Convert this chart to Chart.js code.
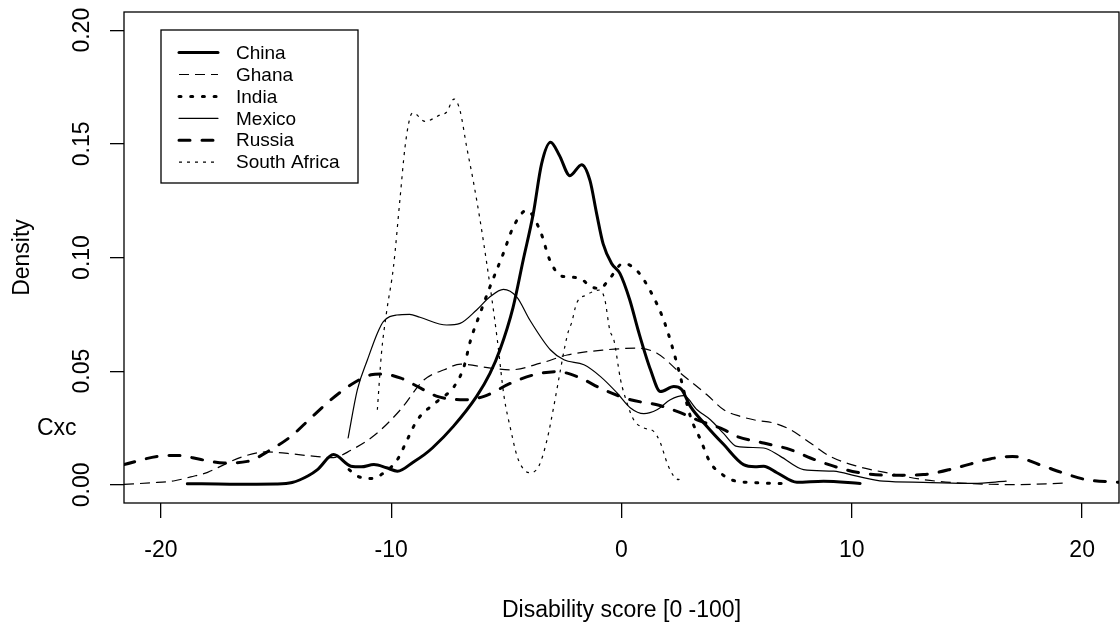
<!DOCTYPE html>
<html>
<head>
<meta charset="utf-8">
<title>Disability score density by country</title>
<script src="https://cdn.jsdelivr.net/npm/chart.js@4.4.1/dist/chart.umd.min.js"></script>
<style>
  html, body { margin: 0; padding: 0; background: #ffffff; }
</style>
</head>
<body>
<canvas id="density-chart" width="1120" height="624"></canvas>
<script>

// KERNEL DENSITY ESTIMATES - DISABILITY SCORE BY COUNTRY //
const chinaScore = [-18.85, -17, -15, -14.3, -13.6, -13.2, -12.5, -11.75, -11.3, -10.75, -10.2, -9.73, -9.0, -8.56, -8.2, -7.3, -6.29, -5.71, -5.28, -4.71, -4.27, -3.83, -3.47, -3.08, -2.7, -2.24, -1.73, -1.37, -1.08, -0.8, -0.43, -0.07, 0.36, 0.72, 1.26, 1.69, 2.27, 2.6, 2.99, 3.71, 4.44, 5.3, 5.8, 6.17, 6.75, 7.62, 8.77, 10.36];
const chinaDensity = [0.0005, 0.0003, 0.0004, 0.001, 0.004, 0.0067, 0.0133, 0.0082, 0.0079, 0.0089, 0.0075, 0.006, 0.0103, 0.0133, 0.0163, 0.0257, 0.0389, 0.049, 0.0593, 0.078, 0.0988, 0.1193, 0.1412, 0.1507, 0.145, 0.136, 0.1408, 0.1339, 0.1193, 0.1061, 0.0974, 0.093, 0.0813, 0.0681, 0.0506, 0.041, 0.0432, 0.042, 0.0345, 0.0257, 0.0177, 0.0089, 0.008, 0.0082, 0.0053, 0.0011, 0.0016, 0.0006];

const ghanaScore = [-21.6, -20.4, -19.4, -18.7, -17.97, -17.25, -16.5, -15.4, -14.5, -13.5, -12.5, -11.75, -10.7, -9.6, -8.57, -7.7, -6.98, -5.68, -4.81, -3.51, -2.36, -0.77, 0.68, 1.54, 2.56, 3.71, 4.44, 5.16, 5.88, 6.6, 7.33, 8.2, 9.06, 10.22, 11.66, 13.1, 14.55, 17, 19.4];
const ghanaDensity = [0.0002, 0.0009, 0.0018, 0.0035, 0.0055, 0.0089, 0.0122, 0.0145, 0.0138, 0.0127, 0.012, 0.0152, 0.022, 0.033, 0.0462, 0.0506, 0.0531, 0.0513, 0.0506, 0.0535, 0.0571, 0.0593, 0.0601, 0.0579, 0.0491, 0.0396, 0.033, 0.0301, 0.0283, 0.0272, 0.0243, 0.0184, 0.0125, 0.0082, 0.005, 0.0023, 0.0009, 0.0001, 0.0008];

const indiaScore = [-11.83, -11.46, -10.88, -10.31, -9.73, -9.3, -8.86, -8.0, -7.27, -6.84, -6.55, -6.14, -5.71, -5.13, -4.7, -4.12, -3.54, -3.11, -2.68, -2.39, -1.81, -1.3, -0.94, -0.51, 0.07, 0.65, 1.23, 1.88, 2.48, 2.99, 3.43, 3.86, 4.29, 4.73, 5.88, 7.2];
const indiaDensity = [0.0067, 0.0038, 0.0028, 0.0053, 0.0111, 0.0199, 0.0286, 0.0367, 0.0432, 0.052, 0.0637, 0.0754, 0.0871, 0.1018, 0.1134, 0.1207, 0.112, 0.0988, 0.0922, 0.0915, 0.0908, 0.0871, 0.0864, 0.0908, 0.0974, 0.0944, 0.0857, 0.0711, 0.0506, 0.0301, 0.0199, 0.0096, 0.0053, 0.0023, 0.0009, 0.0005];

const mexicoScore = [-11.87, -11.47, -11.03, -10.6, -10.34, -9.76, -9.2, -8.75, -7.59, -7.01, -6.29, -5.71, -5.13, -4.55, -3.98, -3.08, -2.5, -1.63, -0.91, -0.19, 0.39, 0.97, 1.54, 2.12, 2.7, 3.28, 3.86, 4.44, 5.01, 6.17, 6.9, 7.9, 9.21, 10.22, 11.37, 13.1, 15.28, 16.7];
const mexicoDensity = [0.0206, 0.0418, 0.055, 0.0667, 0.0718, 0.0747, 0.075, 0.0737, 0.0703, 0.071, 0.0769, 0.0827, 0.086, 0.0827, 0.0725, 0.0593, 0.055, 0.0528, 0.0476, 0.0404, 0.0338, 0.0313, 0.033, 0.0374, 0.0392, 0.033, 0.0286, 0.0225, 0.0169, 0.0162, 0.0125, 0.0067, 0.006, 0.0038, 0.0016, 0.0011, 0.0006, 0.0016];

const russiaScore = [-21.6, -20.14, -19.27, -18.26, -17.25, -16.24, -15.22, -14.35, -13.49, -12.62, -11.75, -10.88, -10.45, -9.58, -8.72, -8.0, -6.84, -5.97, -4.81, -3.8, -2.79, -1.93, -0.77, 0.39, 1.54, 2.41, 3.28, 4.44, 5.01, 6.17, 7.33, 8.2, 9.21, 10.22, 11.66, 13.1, 14.55, 16.0, 16.98, 18.14, 19.15, 20.17, 21.6];
const russiaDensity = [0.0089, 0.0125, 0.0129, 0.0111, 0.0096, 0.0103, 0.0155, 0.0213, 0.0294, 0.0374, 0.044, 0.0484, 0.0488, 0.0469, 0.0425, 0.0389, 0.0374, 0.0389, 0.0447, 0.0484, 0.0498, 0.0476, 0.0418, 0.0374, 0.0352, 0.0323, 0.0286, 0.0243, 0.0213, 0.0184, 0.0155, 0.0118, 0.0082, 0.0055, 0.0042, 0.0045, 0.0075, 0.0114, 0.0125, 0.0089, 0.0053, 0.0023, 0.0011];

const southAfricaScore = [-10.6, -10.42, -10.2, -9.9, -9.61, -9.4, -9.18, -9.04, -8.53, -7.88, -7.6, -7.27, -7.01, -6.72, -6.44, -6.14, -5.85, -5.64, -5.39, -5.1, -4.81, -4.53, -4.24, -3.98, -3.59, -3.23, -2.94, -2.65, -2.43, -2.29, -2.17, -1.95, -1.52, -0.94, -0.72, -0.51, -0.33, -0.04, 0.24, 0.53, 0.97, 1.4, 1.69, 1.98, 2.27, 2.48, 2.56];
const southAfricaDensity = [0.033, 0.058, 0.076, 0.0959, 0.1266, 0.1485, 0.1617, 0.1636, 0.1599, 0.1627, 0.1639, 0.1697, 0.1646, 0.1485, 0.1339, 0.1164, 0.0974, 0.0827, 0.0637, 0.0389, 0.0243, 0.0125, 0.0067, 0.0053, 0.0082, 0.0199, 0.0345, 0.0506, 0.0623, 0.0681, 0.0711, 0.0798, 0.0835, 0.0857, 0.0813, 0.0681, 0.0637, 0.0462, 0.036, 0.0286, 0.025, 0.0235, 0.0184, 0.0096, 0.0038, 0.0023, 0.0038];

const countries = ['China', 'Ghana', 'India', 'Mexico', 'Russia', 'South Africa'];

// AXES //
const xTicks = [-20, -10, 0, 10, 20];
const yTicks = [0, 0.05, 0.10, 0.15, 0.20];

const FONT = '"Liberation Sans", Arial, Helvetica, sans-serif';

/**
 * line type per country, base-graphics style
 */
const LINE_STYLES = {
  'China': {borderWidth: 3, borderDash: [], borderCapStyle: 'round'},
  'Ghana': {borderWidth: 1.2, borderDash: [10, 6], borderCapStyle: 'butt'},
  'India': {borderWidth: 3, borderDash: [2, 9.7], borderCapStyle: 'round'},
  'Mexico': {borderWidth: 1.2, borderDash: [], borderCapStyle: 'round'},
  'Russia': {borderWidth: 3, borderDash: [11, 12], borderCapStyle: 'round'},
  'South Africa': {borderWidth: 1.2, borderDash: [3, 5], borderCapStyle: 'butt'}
};

const toPoints = (scores, densities) => scores.map((x, i) => ({x: x, y: densities[i]}));

const seriesPoints = [
  toPoints(chinaScore, chinaDensity),
  toPoints(ghanaScore, ghanaDensity),
  toPoints(indiaScore, indiaDensity),
  toPoints(mexicoScore, mexicoDensity),
  toPoints(russiaScore, russiaDensity),
  toPoints(southAfricaScore, southAfricaDensity)
];

const datasets = countries.map((country, i) => Object.assign({
  label: country,
  data: seriesPoints[i],
  showLine: true,
  pointRadius: 0,
  borderColor: '#000000',
  backgroundColor: '#000000',
  borderJoinStyle: 'round',
  cubicInterpolationMode: 'monotone',
  fill: false
}, LINE_STYLES[country]));

// PLOT FRAME, INSET LEGEND AND SIDE NOTE //
const framePlugin = {
  id: 'frame',
  afterDatasetsDraw(chart) {
    const {ctx, chartArea: area} = chart;
    ctx.save();

    // box //
    ctx.strokeStyle = '#000000';
    ctx.lineWidth = 1.3;
    ctx.setLineDash([]);
    ctx.strokeRect(area.left, area.top, area.right - area.left, area.bottom - area.top);

    // legend //
    const boxX = area.left + 37;
    const boxY = area.top + 18;
    ctx.strokeRect(boxX, boxY, 197, 153);

    ctx.font = '19px ' + FONT;
    ctx.textBaseline = 'middle';
    ctx.textAlign = 'left';
    ctx.fillStyle = '#000000';
    chart.data.datasets.forEach((ds, i) => {
      const rowY = boxY + 22.6 + i * 21.9;
      ctx.beginPath();
      ctx.lineWidth = ds.borderWidth;
      ctx.lineCap = ds.borderCapStyle;
      ctx.setLineDash(ds.borderDash);
      ctx.moveTo(boxX + 18, rowY);
      ctx.lineTo(boxX + 57, rowY);
      ctx.stroke();
      ctx.fillText(ds.label, boxX + 75, rowY + 1);
    });
    ctx.setLineDash([]);

    // side note //
    ctx.font = '23px ' + FONT;
    ctx.textBaseline = 'alphabetic';
    ctx.fillText('Cxc', 37, 435);

    ctx.restore();
  }
};

const axisFont = {family: FONT, size: 23};

const densityChart = new Chart(document.getElementById('density-chart'), {
  type: 'scatter',
  data: {datasets: datasets},
  options: {
    responsive: false,
    animation: false,
    devicePixelRatio: 1,
    layout: {autoPadding: false, padding: {top: 12, right: 1, bottom: 0, left: 0}},
    plugins: {
      legend: {display: false},
      tooltip: {enabled: false}
    },
    scales: {
      x: {
        type: 'linear',
        min: -21.6,
        max: 21.6,
        bounds: 'data',
        afterBuildTicks: (scale) => { scale.ticks = xTicks.map(v => ({value: v})); },
        afterFit: (scale) => {
          scale.height = 121;
          scale.paddingLeft = 0;
          scale.paddingRight = 0;
        },
        border: {display: false},
        grid: {
          drawOnChartArea: false,
          drawTicks: true,
          tickLength: 15,
          color: '#000000',
          lineWidth: 1.3
        },
        ticks: {
          color: '#000000',
          font: axisFont,
          padding: 19,
          maxRotation: 0,
          autoSkip: false,
          callback: (value) => String(value)
        },
        title: {
          display: true,
          text: 'Disability score [0 -100]',
          color: '#000000',
          font: axisFont,
          padding: {top: 0, bottom: 0}
        }
      },
      y: {
        type: 'linear',
        min: -0.008,
        max: 0.208,
        bounds: 'data',
        afterBuildTicks: (scale) => { scale.ticks = yTicks.map(v => ({value: v})); },
        afterFit: (scale) => {
          scale.width = 124;
          scale.paddingTop = 0;
          scale.paddingBottom = 0;
        },
        border: {display: false},
        grid: {
          drawOnChartArea: false,
          drawTicks: true,
          tickLength: 14,
          color: '#000000',
          lineWidth: 1.3
        },
        ticks: {
          color: '#000000',
          font: axisFont,
          padding: 5,
          minRotation: 90,
          maxRotation: 90,
          crossAlign: 'center',
          autoSkip: false,
          callback: (value) => Number(value).toFixed(2)
        },
        title: {
          display: true,
          text: 'Density',
          color: '#000000',
          font: axisFont,
          padding: {top: 9, bottom: 0}
        }
      }
    }
  },
  plugins: [framePlugin]
});
</script>
</body>
</html>
